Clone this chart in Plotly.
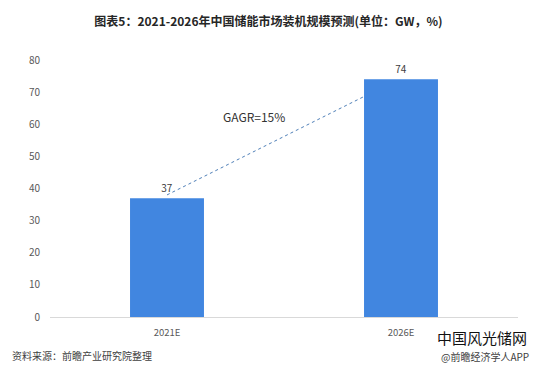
import plotly.graph_objects as go

categories = ["2021E", "2026E"]
values = [37, 74]
y_ticks = [0, 10, 20, 30, 40, 50, 60, 70, 80]
cagr_text = "GAGR=15%"
title_text = "图表5：2021-2026年中国储能市场装机规模预测(单位：GW，%)"
source_text = "资料来源：前瞻产业研究院整理"
brand_text = "中国风光储网"
app_text = "@前瞻经济学人APP"

BAR_WIDTH = 0.316
FONT = "Noto Sans CJK SC, Liberation Sans, sans-serif"
W, H = 537, 370
L, R, T, B = 50, 19, 60, 53
PW, PH = W - L - R, H - T - B


def px_x(x):
    return (x - L) / PW


def px_y(y):
    return (H - B - y) / PH


fig = go.Figure()
fig.add_trace(go.Bar(
    x=list(range(len(categories))), y=values,
    width=BAR_WIDTH,
    marker=dict(color="#4186E0", line=dict(width=0)),
    text=[str(v) for v in values], textposition="outside",
    textfont=dict(size=10, color="#404040", family=FONT),
    cliponaxis=False,
))

# CAGR dotted connector from top of first bar to left edge of last bar
fig.add_trace(go.Scatter(
    x=[0, len(values) - 1 - BAR_WIDTH / 2 - 0.005],
    y=[values[0] + 1, values[-1] * 0.925],
    mode="lines",
    line=dict(color="#4F7FB8", width=1, dash="dot"),
    hoverinfo="skip", showlegend=False,
))

fig.add_annotation(
    x=0.37, y=values[-1] * 0.845, xref="x", yref="y",
    text=cagr_text, showarrow=False,
    font=dict(size=12, color="#333333", family=FONT),
)

fig.update_layout(
    width=W, height=H,
    paper_bgcolor="white", plot_bgcolor="white",
    margin=dict(l=L, r=R, t=T, b=B, autoexpand=False),
    showlegend=False,
    title=dict(
        text="<b>" + title_text + "</b>",
        x=0.5, xanchor="center", y=1 - 22 / H, yanchor="middle",
        font=dict(size=12, color="#262626", family=FONT),
    ),
    xaxis=dict(
        range=[-0.5, 1.5], automargin=False,
        tickmode="array", tickvals=list(range(len(categories))), ticktext=categories,
        showline=True, linecolor="#D9D9D9", linewidth=1,
        showgrid=False, zeroline=False, ticks="",
        tickfont=dict(size=9.5, color="#595959", family=FONT),
        ticklabelstandoff=7,
    ),
    yaxis=dict(
        range=[0, 80], tickvals=y_ticks, automargin=False,
        showgrid=False, zeroline=False, showline=False, ticks="",
        tickfont=dict(size=10, color="#595959", family=FONT),
        ticklabelstandoff=9,
    ),
)

fig.add_annotation(
    x=px_x(10), y=px_y(355), xref="paper", yref="paper",
    xanchor="left", yanchor="middle", showarrow=False,
    text=source_text, font=dict(size=10, color="#404040", family=FONT),
)
fig.add_annotation(
    x=px_x(529), y=px_y(337), xref="paper", yref="paper",
    xanchor="right", yanchor="middle", showarrow=False,
    text=brand_text, font=dict(size=15, color="#111111", family=FONT),
)
fig.add_annotation(
    x=px_x(531), y=px_y(356), xref="paper", yref="paper",
    xanchor="right", yanchor="middle", showarrow=False,
    text=app_text, font=dict(size=10, color="#404040", family=FONT),
)

fig.write_html(
    "out.html",
    config={"displayModeBar": False},
    post_script="document.body.style.margin='0';document.body.style.overflow='hidden';",
)
